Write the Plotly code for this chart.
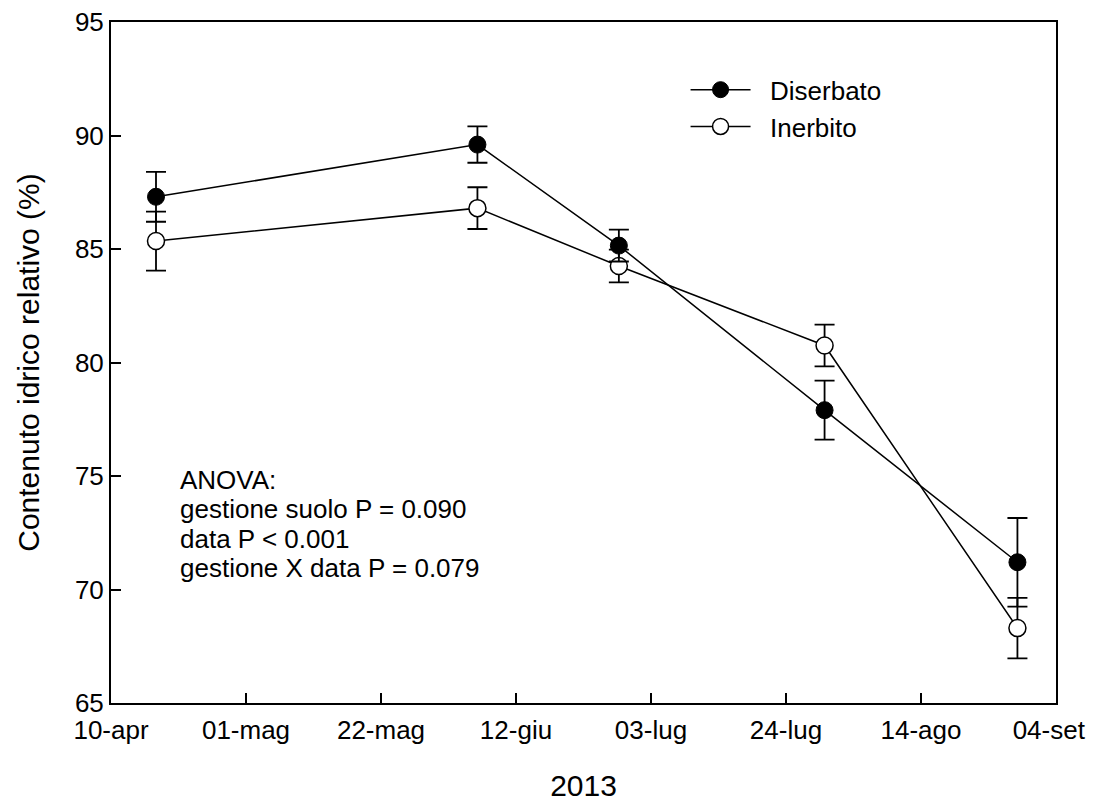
import plotly.graph_objects as go

dates = ["2013-04-17", "2013-06-06", "2013-06-28", "2013-07-30", "2013-08-29"]
diserbato = [87.3, 89.6, 85.15, 77.9, 71.2]
diserbato_err = [1.1, 0.8, 0.7, 1.3, 1.95]
inerbito = [85.35, 86.8, 84.25, 80.75, 68.3]
inerbito_err = [1.3, 0.92, 0.72, 0.92, 1.33]

tick_dates = ["2013-04-10", "2013-05-01", "2013-05-22", "2013-06-12",
              "2013-07-03", "2013-07-24", "2013-08-14", "2013-09-04"]
tick_labels = ["10-apr", "01-mag", "22-mag", "12-giu", "03-lug", "24-lug", "14-ago", "04-set"]

anova_lines = ["ANOVA:", "gestione suolo P = 0.090", "data P < 0.001", "gestione X data P = 0.079"]
anova_y = [0.328, 0.285, 0.241, 0.198]

font = "Liberation Sans, Arial, sans-serif"
NB = "\u00a0"

# keep the last label inside the page (shift it slightly left, as in the original)
shown_labels = tick_labels[:-1] + [tick_labels[-1] + NB + NB]

fig = go.Figure()
fig.add_trace(go.Scatter(
    x=dates, y=inerbito, name=NB + NB + "Inerbito", mode="lines+markers",
    line=dict(color="black", width=1.5),
    marker=dict(symbol="circle", size=17, color="white", line=dict(color="black", width=1.5)),
    error_y=dict(type="data", array=inerbito_err, color="black", thickness=1.8, width=10),
))
fig.add_trace(go.Scatter(
    x=dates, y=diserbato, name=NB + NB + "Diserbato", mode="lines+markers",
    line=dict(color="black", width=1.5),
    marker=dict(symbol="circle", size=17, color="black", line=dict(color="black", width=1)),
    error_y=dict(type="data", array=diserbato_err, color="black", thickness=1.8, width=10),
))

for txt, yy in zip(anova_lines, anova_y):
    fig.add_annotation(
        x=0.071, y=yy, xref="paper", yref="paper", xanchor="left", yanchor="middle",
        text=txt, showarrow=False, align="left",
        font=dict(family=font, size=26, color="black"),
    )

fig.update_layout(
    width=1086, height=797,
    margin=dict(l=103, r=38, t=14, b=102),
    plot_bgcolor="white", paper_bgcolor="white",
    font=dict(family=font, size=26, color="black"),
    showlegend=True,
    legend=dict(x=0.608, y=0.935, xanchor="left", yanchor="top", traceorder="reversed",
                bgcolor="rgba(0,0,0,0)", font=dict(size=26), itemwidth=60,
                tracegroupgap=0),
    xaxis=dict(
        type="date", range=["2013-04-10", "2013-09-04"],
        tickvals=tick_dates, ticktext=shown_labels,
        ticks="inside", ticklen=10, tickwidth=1.5, tickcolor="black",
        showline=True, linecolor="black", linewidth=2, mirror=True,
        showgrid=False, zeroline=False, automargin=False,
        tickfont=dict(size=26), ticklabelstandoff=3, ticklabeloverflow="allow",
        title=dict(text="2013", font=dict(size=30), standoff=31),
    ),
    yaxis=dict(
        range=[65, 95], tickvals=[65, 70, 75, 80, 85, 90, 95],
        ticks="inside", ticklen=10, tickwidth=1.5, tickcolor="black",
        showline=True, linecolor="black", linewidth=2, mirror=True,
        showgrid=False, zeroline=False, automargin=False,
        tickfont=dict(size=26), ticklabeloverflow="allow",
        title=dict(text="Contenuto idrico relativo (%)", font=dict(size=30), standoff=26),
    ),
)

fig.write_html("out.html")
